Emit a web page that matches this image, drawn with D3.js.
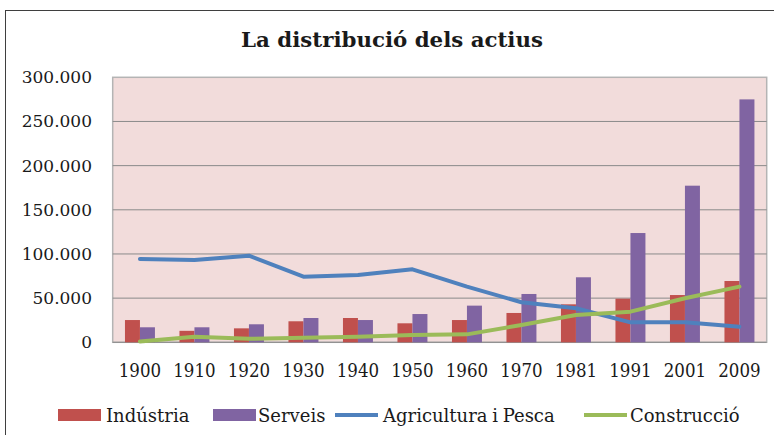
<!DOCTYPE html>
<meta charset="utf-8">
<head>
  <title>La distribució dels actius</title>
</head>

<style>
body { margin: 0; background: white; }
text {
  font-family: "DejaVu Serif", serif;
  fill: #1a1a1a;
}
.title { font-weight: bold; font-size: 21px; font-stretch: condensed; }
.ylab { font-size: 17px; }
.xlab { font-size: 18.5px; font-stretch: condensed; }
.leg { font-size: 18px; }
</style>

<body>
  <svg width="774" height="435"></svg>

  <script src="https://cdnjs.cloudflare.com/ajax/libs/d3/7.8.5/d3.min.js"></script>
  <script>
var years = ['1900', '1910', '1920', '1930', '1940', '1950', '1960', '1970', '1981', '1991', '2001', '2009'];
var industria = [25200, 13000, 15800, 23800, 27500, 21500, 25200, 33200, 43000, 49400, 53500, 69400];
var serveis = [17000, 17000, 20400, 27500, 25200, 32000, 41500, 54700, 73600, 123700, 177300, 275000];
var agricultura = [94300, 93200, 98000, 74300, 76200, 82600, 63000, 45300, 38500, 22600, 22600, 17700];
var construccio = [1000, 6300, 4000, 5200, 6300, 8300, 9000, 19600, 30900, 34700, 49800, 63000];
var yTicks = [0, 50000, 100000, 150000, 200000, 250000, 300000];

var colors = {
  ind: '#C0504D',
  serv: '#8064A2',
  agr: '#4F81BD',
  con: '#9BBB59'
};

var svg = d3.select('svg');

// outer frame (runs off the right and bottom edges)
svg.append('rect')
  .attr('x', 5.5).attr('y', 10.5)
  .attr('width', 800).attr('height', 500)
  .attr('fill', 'white')
  .attr('stroke', '#3f3f3f');

var plotLeft = 112.7, plotRight = 766.7, plotTop = 77.3, plotBottom = 342.3;

var x = d3.scaleBand()
  .domain(years)
  .range([plotLeft, plotRight])
  .paddingInner(0.45)
  .paddingOuter(0.225);

var x1 = d3.scaleBand()
  .domain(['ind', 'serv'])
  .range([0, x.bandwidth()]);

var y = d3.scaleLinear()
  .domain([0, 300000])
  .range([plotBottom, plotTop]);

var fmt = d3.formatLocale({decimal: ',', thousands: '.', grouping: [3], currency: ['', '€']}).format(',');

// plot area
svg.append('rect')
  .attr('x', plotLeft).attr('y', plotTop)
  .attr('width', plotRight - plotLeft).attr('height', plotBottom - plotTop)
  .attr('fill', '#F2DCDB')
  .attr('stroke', '#b4b4b4')
  .attr('stroke-width', 1.5);

svg.append('g')
  .selectAll('line')
  .data(yTicks.slice(0, -1))
  .enter()
  .append('line')
  .attr('x1', plotLeft).attr('x2', plotRight)
  .attr('y1', function(d) { return y(d); })
  .attr('y2', function(d) { return y(d); })
  .attr('stroke', '#8a8a8a')
  .attr('stroke-width', 1);

svg.append('g')
  .selectAll('text')
  .data(yTicks)
  .enter()
  .append('text')
  .attr('class', 'ylab')
  .attr('x', 92)
  .attr('y', function(d) { return y(d) + 6; })
  .attr('text-anchor', 'end')
  .text(function(d) { return fmt(d); });

svg.append('g')
  .selectAll('text')
  .data(years)
  .enter()
  .append('text')
  .attr('class', 'xlab')
  .attr('x', function(d) { return x(d) + x.bandwidth() / 2; })
  .attr('y', 377)
  .attr('text-anchor', 'middle')
  .text(function(d) { return d; });

// bars
var groups = svg.append('g')
  .selectAll('g')
  .data(years)
  .enter()
  .append('g')
  .attr('transform', function(d) { return 'translate(' + x(d) + ',0)'; });

groups.append('rect')
  .attr('x', x1('ind'))
  .attr('width', x1.bandwidth())
  .attr('y', function(d, i) { return y(industria[i]); })
  .attr('height', function(d, i) { return plotBottom - y(industria[i]); })
  .attr('fill', colors.ind);

groups.append('rect')
  .attr('x', x1('serv'))
  .attr('width', x1.bandwidth())
  .attr('y', function(d, i) { return y(serveis[i]); })
  .attr('height', function(d, i) { return plotBottom - y(serveis[i]); })
  .attr('fill', colors.serv);

// lines
var line = d3.line()
  .x(function(d, i) { return x(years[i]) + x.bandwidth() / 2; })
  .y(function(d) { return y(d); });

svg.append('path')
  .attr('d', line(agricultura))
  .attr('fill', 'none')
  .attr('stroke', colors.agr)
  .attr('stroke-width', 4)
  .attr('stroke-linejoin', 'round')
  .attr('stroke-linecap', 'round');

svg.append('path')
  .attr('d', line(construccio))
  .attr('fill', 'none')
  .attr('stroke', colors.con)
  .attr('stroke-width', 4)
  .attr('stroke-linejoin', 'round')
  .attr('stroke-linecap', 'round');

// title
svg.append('text')
  .attr('class', 'title')
  .attr('x', 392)
  .attr('y', 47)
  .attr('text-anchor', 'middle')
  .attr('textLength', 302)
  .attr('lengthAdjust', 'spacingAndGlyphs')
  .text('La distribució dels actius');

// legend
var legend = [
  {name: 'Indústria', key: 'ind', type: 'bar', x: 58, dx: 48},
  {name: 'Serveis', key: 'serv', type: 'bar', x: 213, dx: 45},
  {name: 'Agricultura i Pesca', key: 'agr', type: 'line', x: 335, dx: 48},
  {name: 'Construcció', key: 'con', type: 'line', x: 584, dx: 46}
];

var items = svg.append('g')
  .selectAll('g')
  .data(legend)
  .enter()
  .append('g')
  .attr('transform', function(d) { return 'translate(' + d.x + ',0)'; });

items.filter(function(d) { return d.type === 'bar'; })
  .append('rect')
  .attr('x', 0).attr('y', 409)
  .attr('width', 43).attr('height', 12)
  .attr('fill', function(d) { return colors[d.key]; });

items.filter(function(d) { return d.type === 'line'; })
  .append('line')
  .attr('x1', 0).attr('x2', 43)
  .attr('y1', 415).attr('y2', 415)
  .attr('stroke', function(d) { return colors[d.key]; })
  .attr('stroke-width', 4);

items.append('text')
  .attr('class', 'leg')
  .attr('x', function(d) { return d.dx; })
  .attr('y', 422)
  .style('word-spacing', '-1px')
  .text(function(d) { return d.name; });
  </script>
</body>
</html>
